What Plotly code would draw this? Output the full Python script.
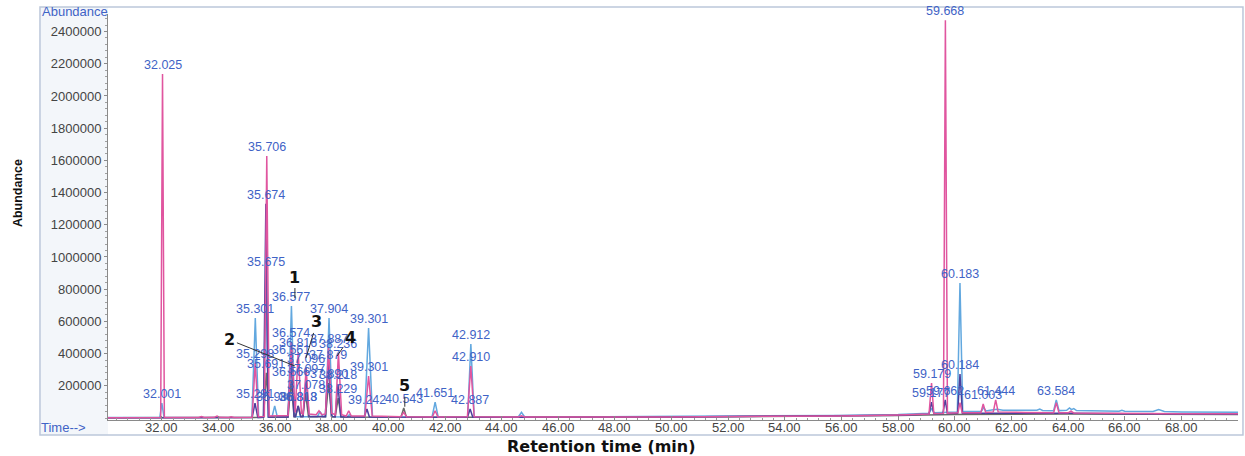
import plotly.graph_objects as go

# ---- Total ion chromatograms, four overlaid runs (retention time in min, abundance) ----
PINK_TIME = [30.10, 31.00,
             31.96, 32.025, 32.09,
             33.30, 33.40, 33.50, 33.85, 33.95, 34.05, 34.35, 34.45, 34.55,
             35.19, 35.298, 35.41,
             35.62, 35.706, 35.79,
             36.46, 36.574, 36.69,
             36.71, 36.816, 36.93,
             36.99, 37.096, 37.20,
             37.45, 37.55, 37.65,
             37.78, 37.887, 38.00,
             38.13, 38.236, 38.35,
             38.51, 38.60, 38.69,
             39.17, 39.301, 39.43,
             40.44, 40.543, 40.64,
             41.55, 41.651, 41.75,
             42.79, 42.910, 43.03,
             44.58, 44.70, 44.82,
             50.00, 54.00, 56.00, 58.00,
             59.09, 59.179, 59.26,
             59.60, 59.668, 59.74,
             60.11, 60.184, 60.26,
             60.92, 61.003, 61.09,
             61.36, 61.444, 61.53,
             62.50, 63.49, 63.584, 63.68,
             64.00, 64.10, 64.20,
             66.00, 68.00, 70.00]
PINK_ABUND = [2000, 2500,
              3000, 2137000, 3000,
              3000, 9000, 3000, 4000, 12000, 4000, 3000, 8000, 3000,
              5000, 342000, 8000,
              10000, 1627000, 12000,
              15000, 472000, 40000,
              35000, 410000, 30000,
              25000, 311000, 25000,
              20000, 45000, 20000,
              25000, 435000, 30000,
              20000, 404000, 20000,
              12000, 45000, 12000,
              12000, 261000, 12000,
              8000, 35000, 8000,
              6000, 45000, 6000,
              8000, 323000, 8000,
              6000, 14000, 6000,
              7000, 9000, 13000, 18000,
              25000, 217000, 28000,
              30000, 2470000, 30000,
              32000, 95000, 32000,
              33000, 87000, 34000,
              38000, 112000, 38000,
              34000, 32000, 95000, 32000,
              32000, 42000, 31000,
              28000, 26000, 27000]

BLUE_TIME = [30.10,
             31.93, 32.001, 32.08,
             35.18, 35.301, 35.42,
             35.59, 35.675, 35.76,
             35.89, 35.986, 36.08,
             36.46, 36.577, 36.69,
             37.49, 37.59, 37.69,
             37.79, 37.904, 38.02,
             38.54, 38.62, 38.71,
             39.16, 39.301, 39.44,
             41.54, 41.651, 41.76,
             42.80, 42.912, 43.03,
             44.58, 44.70, 44.82,
             50.00, 54.00, 56.00, 58.00,
             59.09, 59.18, 59.27,
             60.09, 60.183, 60.28,
             60.94, 61.02, 61.10,
             61.30, 61.50, 61.70,
             62.50, 62.90, 63.00, 63.10,
             63.49, 63.584, 63.68,
             63.95, 64.05, 64.12, 64.20, 64.30,
             65.80, 65.90, 66.00,
             67.00, 67.20, 67.40,
             68.00, 70.00]
BLUE_ABUND = [3000,
              3000, 93000, 3000,
              4000, 621000, 4000,
              5000, 913000, 5000,
              5000, 75000, 5000,
              6000, 696000, 8000,
              8000, 40000, 8000,
              8000, 621000, 8000,
              6000, 20000, 6000,
              6000, 559000, 6000,
              5000, 99000, 5000,
              5000, 460000, 5000,
              5000, 35000, 5000,
              8000, 12000, 16000, 22000,
              30000, 60000, 32000,
              38000, 838000, 40000,
              42000, 65000, 44000,
              50000, 55000, 48000,
              45000, 48000, 55000, 47000,
              45000, 112000, 46000,
              48000, 62000, 52000, 58000, 46000,
              42000, 48000, 42000,
              40000, 52000, 40000,
              38000, 36000]

NAVY_TIME = [30.10,
             35.19, 35.291, 35.39,
             35.59, 35.674, 35.76,
             36.45, 36.561, 36.67,
             36.72, 36.813, 36.90,
             36.99, 37.097, 37.20,
             37.77, 37.879, 37.99,
             38.12, 38.218, 38.32,
             39.15, 39.242, 39.33,
             42.79, 42.887, 42.98,
             50.00, 56.00, 58.00,
             59.09, 59.177, 59.26,
             59.58, 59.662, 59.74,
             60.10, 60.184, 60.27,
             62.00, 64.00, 66.00, 68.00, 70.00]
NAVY_ABUND = [2000,
              3000, 93000, 3000,
              5000, 1330000, 6000,
              6000, 366000, 10000,
              10000, 75000, 10000,
              10000, 248000, 10000,
              10000, 335000, 10000,
              8000, 211000, 8000,
              6000, 56000, 6000,
              5000, 56000, 5000,
              6000, 12000, 17000,
              24000, 99000, 26000,
              28000, 112000, 28000,
              30000, 273000, 30000,
              32000, 30000, 27000, 25000, 25000]

GRAY_TIME = [30.10,
             35.59, 35.691, 35.79,
             36.46, 36.566, 36.67,
             36.72, 36.818, 36.91,
             36.97, 37.078, 37.18,
             37.78, 37.890, 38.00,
             38.12, 38.229, 38.33,
             40.44, 40.543, 40.64,
             50.00, 56.00, 58.00, 60.00, 64.00, 70.00]
GRAY_ABUND = [2000,
              4000, 280000, 4000,
              6000, 230000, 8000,
              8000, 75000, 8000,
              8000, 149000, 8000,
              8000, 217000, 8000,
              6000, 124000, 6000,
              4000, 62000, 4000,
              5000, 10000, 15000, 22000, 25000, 22000]

# Peaks annotated with their retention time, per run
BLUE_LABELED = [32.001, 35.301, 35.675, 35.986, 36.577, 37.904, 39.301,
                41.651, 42.912, 60.183, 63.584]
PINK_LABELED = [32.025, 35.298, 35.706, 36.574, 36.816, 37.096, 37.887,
                38.236, 39.301, 42.910, 59.179, 59.668, 61.003, 61.444]
NAVY_LABELED = [35.291, 35.674, 36.561, 36.813, 37.097, 37.879, 38.218,
                39.242, 42.887, 59.177, 59.662, 60.184]
GRAY_LABELED = [35.691, 36.566, 36.818, 37.078, 37.890, 38.229, 40.543]

# Numbered compounds: call-out point (time, abundance) and text offset in px
CALLOUT_TEXT = ["1", "2", "3", "4", "5"]
CALLOUT_TIME = [36.70, 36.70, 37.09, 38.19, 40.58]
CALLOUT_ABUND = [745000, 323000, 373000, 385000, 70000]
CALLOUT_DX = [0, -65, 11, 13, 0]
CALLOUT_DY = [-21, -26, -36, -19, -21]

X_TICKS = [32.0, 34.0, 36.0, 38.0, 40.0, 42.0, 44.0, 46.0, 48.0, 50.0,
           52.0, 54.0, 56.0, 58.0, 60.0, 62.0, 64.0, 66.0, 68.0]
Y_TICKS = [200000, 400000, 600000, 800000, 1000000, 1200000,
           1400000, 1600000, 1800000, 2000000, 2200000, 2400000]

LABEL_BLUE = "#3f63c6"
TICK_FONT = dict(family="Liberation Sans, Arial", size=13, color="#444444")
RUNS = [
    (BLUE_TIME, BLUE_ABUND, BLUE_LABELED, "#62a8df"),
    (GRAY_TIME, GRAY_ABUND, GRAY_LABELED, "#6a6a6a"),
    (NAVY_TIME, NAVY_ABUND, NAVY_LABELED, "#4c3f9c"),
    (PINK_TIME, PINK_ABUND, PINK_LABELED, "#e0559f"),
]

fig = go.Figure()
annotations = []
for times, abund, labeled, color in RUNS:
    fig.add_trace(go.Scatter(x=times, y=abund, mode="lines",
                             line=dict(color=color, width=1.5),
                             hoverinfo="skip", showlegend=False))
    for t in labeled:
        annotations.append(dict(
            x=t, y=abund[times.index(t)], xref="x", yref="y",
            text=f"{t:.3f}", showarrow=False, xanchor="center", yanchor="bottom",
            font=dict(family="Liberation Sans, Arial, sans-serif", size=12.5, color=LABEL_BLUE),
        ))

for txt, t, a, dx, dy in zip(CALLOUT_TEXT, CALLOUT_TIME, CALLOUT_ABUND, CALLOUT_DX, CALLOUT_DY):
    annotations.append(dict(
        x=t, y=a, xref="x", yref="y", text=f"<b>{txt}</b>",
        showarrow=True, arrowhead=0, arrowwidth=1, arrowcolor="#333333",
        ax=dx, ay=dy, standoff=0,
        font=dict(family="DejaVu Sans, sans-serif", size=16, color="#111111"),
    ))

# Time tick labels sit tight under the time axis
for v in X_TICKS:
    annotations.append(dict(x=v, y=-0.0197, xref="x", yref="paper", text=f"{v:.2f}",
                            showarrow=False, xanchor="center", yanchor="middle", font=TICK_FONT))

# Instrument-style captions inside the frame
annotations += [
    dict(x=-0.0292, y=1.005, xref="paper", yref="paper", text="Abundance", showarrow=False,
         xanchor="center", yanchor="middle",
         font=dict(family="Liberation Sans, Arial", size=13, color=LABEL_BLUE)),
    dict(x=-0.0398, y=-0.0197, xref="paper", yref="paper", text="Time-->", showarrow=False,
         xanchor="center", yanchor="middle",
         font=dict(family="Liberation Sans, Arial", size=13, color=LABEL_BLUE)),
    # Outer axis titles
    dict(x=-0.0796, y=0.559, xref="paper", yref="paper", text="<b>Abundance</b>", showarrow=False,
         textangle=-90, xanchor="center", yanchor="middle",
         font=dict(family="Liberation Sans Narrow, Liberation Sans, Arial", size=12.5, color="#111111")),
    dict(x=0.437, y=-0.0665, xref="paper", yref="paper", text="<b>Retention time (min)</b>",
         showarrow=False, xanchor="center", yanchor="middle",
         font=dict(family="DejaVu Sans, sans-serif", size=16, color="#111111")),
]

shapes = [
    # light panel left of the abundance axis
    dict(type="rect", xref="paper", yref="paper", x0=-0.0602, x1=0.0, y0=-0.0369, y1=1.0172,
         fillcolor="#f3f6fa", line=dict(width=0), layer="below"),
    # outer frame
    dict(type="rect", xref="paper", yref="paper", x0=-0.0602, x1=1.0044, y0=-0.0369, y1=1.0172,
         line=dict(color="#bcc7da", width=1.5), fillcolor="rgba(0,0,0,0)"),
]

fig.update_layout(
    width=1245, height=456,
    margin=dict(l=108, r=7, t=14, b=36),
    paper_bgcolor="white", plot_bgcolor="white",
    annotations=annotations, shapes=shapes,
    xaxis=dict(range=[30.1, 70.0], tickvals=X_TICKS, showticklabels=False,
               showgrid=False, zeroline=False, showline=True, linecolor="#8a8a8a", linewidth=1,
               ticks="inside", ticklen=4, tickcolor="#8a8a8a",
               minor=dict(tick0=30.0, dtick=0.4, ticks="inside", ticklen=2, tickcolor="#9a9a9a")),
    yaxis=dict(range=[-12400, 2509000], tickvals=Y_TICKS, ticktext=[str(v) for v in Y_TICKS],
               showgrid=False, zeroline=False, showline=True, linecolor="#8a8a8a", linewidth=1,
               ticks="outside", ticklen=3, tickcolor="#8a8a8a",
               minor=dict(dtick=40000, ticks="outside", ticklen=2, tickcolor="#a0a0a0"),
               tickfont=TICK_FONT),
)

fig.write_html("out.html")
